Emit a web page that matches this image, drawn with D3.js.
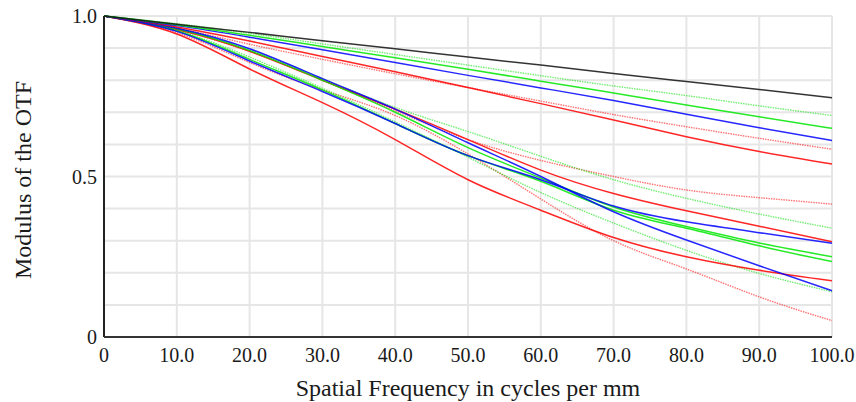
<!DOCTYPE html>
<html>
<head>
<meta charset="utf-8">
<script src="https://cdn.jsdelivr.net/npm/d3@7"></script>
<style>
  body { margin: 0; background: #fff; }
  text { font-family: "Liberation Serif", "Times New Roman", serif; fill: #1a1a1a; }
</style>
</head>
<body>
<svg width="856" height="402"></svg>
<script>
// spatial frequency samples (cycles per mm)
const freqs = [0, 10, 20, 30, 40, 50, 60, 70, 80, 90, 100];

// diffraction limit
const diffLimit = [1, 0.974, 0.949, 0.923, 0.898, 0.872, 0.847, 0.821, 0.796, 0.771, 0.745];

// upper bundle
const upGreenDot = [1, 0.976, 0.946, 0.913, 0.88, 0.847, 0.814, 0.782, 0.752, 0.72, 0.69];
const upGreen    = [1, 0.973, 0.940, 0.905, 0.87, 0.834, 0.797, 0.760, 0.723, 0.686, 0.650];
const upBlue     = [1, 0.97, 0.934, 0.895, 0.855, 0.815, 0.776, 0.737, 0.694, 0.652, 0.612];
const upRedDot   = [1, 0.962, 0.912, 0.865, 0.82, 0.777, 0.735, 0.693, 0.655, 0.619, 0.585];
const upRed      = [1, 0.966, 0.922, 0.874, 0.826, 0.777, 0.727, 0.676, 0.624, 0.578, 0.539];

// lower bundle
const loRedDotA   = [1, 0.958, 0.89, 0.80, 0.705, 0.615, 0.55, 0.50, 0.458, 0.434, 0.414];
const loGreenDotA = [1, 0.962, 0.895, 0.805, 0.715, 0.64, 0.563, 0.49, 0.432, 0.383, 0.339];
const loRedA      = [1, 0.958, 0.89, 0.80, 0.71, 0.615, 0.52, 0.447, 0.393, 0.345, 0.297];
const loBlueA     = [1, 0.952, 0.86, 0.765, 0.665, 0.565, 0.49, 0.408, 0.359, 0.325, 0.292];
const loGreenA    = [1, 0.96, 0.892, 0.80, 0.70, 0.59, 0.495, 0.405, 0.344, 0.293, 0.250];
const loGreenB    = [1, 0.954, 0.865, 0.77, 0.665, 0.565, 0.485, 0.395, 0.339, 0.284, 0.235];
const loRedB      = [1, 0.944, 0.835, 0.73, 0.615, 0.49, 0.395, 0.31, 0.25, 0.208, 0.175];
const loBlueB     = [1, 0.962, 0.898, 0.805, 0.71, 0.605, 0.50, 0.39, 0.302, 0.222, 0.144];
const loGreenDotB = [1, 0.955, 0.872, 0.775, 0.67, 0.56, 0.45, 0.355, 0.27, 0.198, 0.141];
const loRedDotB   = [1, 0.948, 0.855, 0.77, 0.69, 0.57, 0.43, 0.30, 0.212, 0.125, 0.051];

const xTicks = [0, 10, 20, 30, 40, 50, 60, 70, 80, 90, 100];
const yTicks = [0, 0.5, 1.0];
const yGrid = [0.1, 0.2, 0.3, 0.4, 0.5, 0.6, 0.7, 0.8, 0.9, 1.0];

const series = [
  {vals: loRedDotB, color: '#ff0000', dot: true},
  {vals: loGreenDotB, color: '#00e000', dot: true},
  {vals: loRedDotA, color: '#ff0000', dot: true},
  {vals: loGreenDotA, color: '#00e000', dot: true},
  {vals: upRedDot, color: '#ff0000', dot: true},
  {vals: upGreenDot, color: '#00e000', dot: true},
  {vals: loRedB, color: '#ff0000'},
  {vals: loRedA, color: '#ff0000'},
  {vals: loGreenB, color: '#00e600'},
  {vals: loGreenA, color: '#00e600'},
  {vals: loBlueA, color: '#0000ff'},
  {vals: loBlueB, color: '#0000ff'},
  {vals: upRed, color: '#ff0000'},
  {vals: upBlue, color: '#0000ff'},
  {vals: upGreen, color: '#00e600'},
  {vals: diffLimit, color: '#111111'}
];

const svg = d3.select('svg'),
      margin = {top: 16, right: 24, bottom: 65, left: 104},
      width = +svg.attr('width') - margin.left - margin.right,
      height = +svg.attr('height') - margin.top - margin.bottom,
      g = svg.append('g').attr('transform', `translate(${margin.left}, ${margin.top})`);

const x = d3.scaleLinear().domain([0, 100]).range([0, width]);
const y = d3.scaleLinear().domain([0, 1]).range([height, 0]);

// grid
g.append('g').selectAll('line')
  .data(xTicks.slice(1))
  .enter().append('line')
    .attr('x1', d => x(d)).attr('x2', d => x(d))
    .attr('y1', 0).attr('y2', height)
    .attr('stroke', '#e6e6e6').attr('stroke-width', 2);

g.append('g').selectAll('line')
  .data(yGrid)
  .enter().append('line')
    .attr('x1', 0).attr('x2', width)
    .attr('y1', d => y(d)).attr('y2', d => y(d))
    .attr('stroke', '#e6e6e6').attr('stroke-width', 2);

const line = d3.line()
  .x(d => x(d[0]))
  .y(d => y(d[1]))
  .curve(d3.curveNatural);

g.append('g').selectAll('path')
  .data(series)
  .enter().append('path')
    .attr('fill', 'none')
    .attr('stroke', s => s.color)
    .attr('stroke-width', s => s.dot ? 1.4 : 1.5)
    .attr('stroke-opacity', s => s.dot ? 0.55 : 0.85)
    .attr('stroke-dasharray', s => s.dot ? '1.5,1' : null)
    .attr('d', s => line(freqs.map((f, i) => [f, s.vals[i]])));

// axes
g.append('line')
  .attr('x1', 0).attr('x2', 0).attr('y1', 0).attr('y2', height)
  .attr('stroke', '#222').attr('stroke-width', 2);
g.append('line')
  .attr('x1', 0).attr('x2', width).attr('y1', height).attr('y2', height)
  .attr('stroke', '#333').attr('stroke-width', 2);

const fmt = d => d === 0 ? '0' : d3.format('.1f')(d);

g.append('g').selectAll('text')
  .data(xTicks)
  .enter().append('text')
    .attr('x', d => x(d))
    .attr('y', height + 25)
    .attr('text-anchor', 'middle')
    .style('font-size', '20px')
    .text(fmt);

g.append('g').selectAll('text')
  .data(yTicks)
  .enter().append('text')
    .attr('x', -7)
    .attr('y', d => y(d) + 7)
    .attr('text-anchor', 'end')
    .style('font-size', '20px')
    .text(fmt);

svg.append('text')
  .attr('x', margin.left + width / 2)
  .attr('y', 396)
  .attr('text-anchor', 'middle')
  .style('font-size', '24px')
  .text('Spatial Frequency in cycles per mm');

svg.append('text')
  .attr('transform', `translate(31, 180) rotate(-90)`)
  .attr('text-anchor', 'middle')
  .style('font-size', '24px')
  .text('Modulus of the OTF');
</script>
</body>
</html>
